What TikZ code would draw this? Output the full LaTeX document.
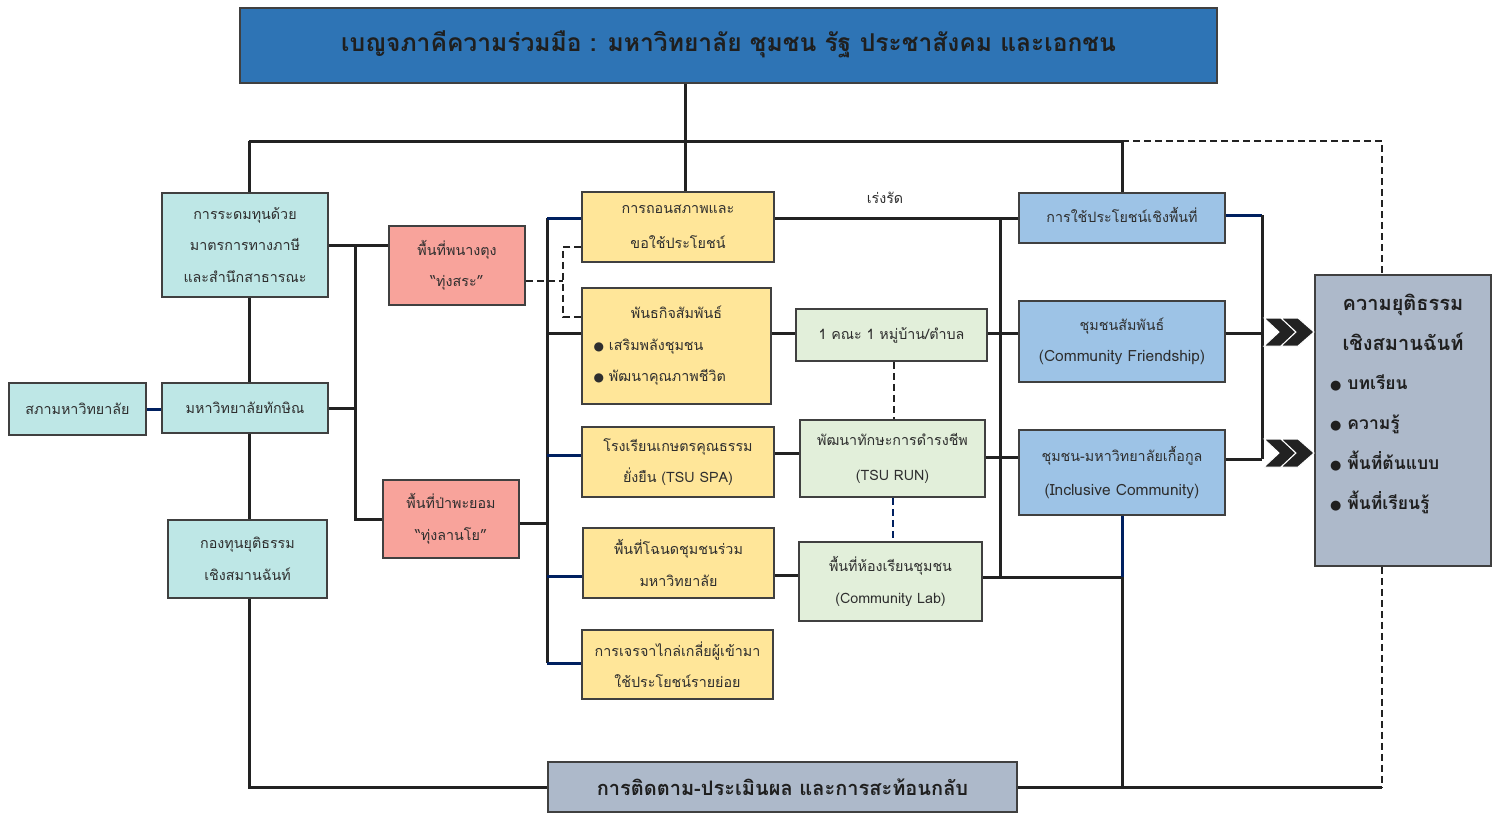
\documentclass[tikz,border=0pt]{standalone}
\usepackage{fontspec}
\setmainfont[Script=Thai]{Loma}
\newfontfamily\symf{DejaVu Sans}
\definecolor{headc}{HTML}{2E74B5}
\definecolor{cyanc}{HTML}{BEE7E6}
\definecolor{pinkc}{HTML}{F8A39B}
\definecolor{yelc}{HTML}{FFE699}
\definecolor{grnc}{HTML}{E2EFDA}
\definecolor{bluc}{HTML}{9DC3E6}
\definecolor{greyc}{HTML}{ADB9CA}
\definecolor{navyc}{HTML}{002060}
\definecolor{linec}{HTML}{222222}
\definecolor{bordc}{HTML}{404040}
\definecolor{txtc}{HTML}{2E2E2E}
\tikzset{
  box/.style={draw=bordc, line width=1.5pt, inner sep=0pt, align=center, text=txtc,
    font=\fontsize{14.3}{31.5}\selectfont},
  ln/.style={draw=linec, line width=3pt},
  nv/.style={draw=navyc, line width=3pt},
  dsh/.style={draw=linec, line width=2.6pt, dash pattern=on 7pt off 4pt},
  ndsh/.style={draw=navyc, line width=2.6pt, dash pattern=on 7pt off 4pt},
  chevf/.style={fill=linec, draw=white, line width=1pt},
}
\newcommand\dblchev[2]{%
  \begin{scope}[shift={(#1,#2)}]
    \filldraw[chevf] (0,-14) -- (17,-14) -- (32,0) -- (17,14) -- (0,14) -- (15,0) -- cycle;
    \filldraw[chevf] (17,-14) -- (34,-14) -- (50,0) -- (34,14) -- (17,14) -- (32,0) -- cycle;
  \end{scope}}
\begin{document}
\begin{tikzpicture}[x=1pt,y=-1pt]
\useasboundingbox (0,0) rectangle (1501,814);
% ---------------- nodes
\node[box, fill=headc, minimum width=977, minimum height=75, text=black!88,
  font=\bfseries\fontsize{24.6}{28}\selectfont] (head) at (728.5,45.5) {\raisebox{8pt}{เบญจภาคีความร่วมมือ : มหาวิทยาลัย ชุมชน รัฐ ประชาสังคม และเอกชน}};

\node[box, fill=cyanc, minimum width=166, minimum height=104] (fund) at (245,245) {การระดมทุนด้วย\\มาตรการทางภาษี\\และสำนึกสาธารณะ};
\node[box, fill=cyanc, minimum width=137, minimum height=52] (council) at (77.5,409) {สภามหาวิทยาลัย};
\node[box, fill=cyanc, minimum width=166, minimum height=50] (tsu) at (245,408) {มหาวิทยาลัยทักษิณ};
\node[box, fill=cyanc, minimum width=159, minimum height=78] (jfund) at (247.5,559) {กองทุนยุติธรรม\\เชิงสมานฉันท์};

\node[box, fill=pinkc, minimum width=136, minimum height=79] (p1) at (457,265.5) {พื้นที่พนางตุง\\“ทุ่งสระ”};
\node[box, fill=pinkc, minimum width=136, minimum height=78] (p2) at (451,519) {พื้นที่ป่าพะยอม\\“ทุ่งลานโย”};

\node[box, fill=yelc, minimum width=192, minimum height=70] (y1) at (678,227) {\raisebox{3pt}{การถอนสภาพและ}\\ขอใช้ประโยชน์};
\node[box, fill=yelc, minimum width=189, minimum height=116, align=left] (y2) at (676.5,346)
  {\makebox[166pt][c]{พันธกิจสัมพันธ์}\\{\symf\fontsize{12}{12}\selectfont ●}\hspace{5pt}เสริมพลังชุมชน\\{\symf\fontsize{12}{12}\selectfont ●}\hspace{5pt}พัฒนาคุณภาพชีวิต};
\node[box, fill=yelc, minimum width=192, minimum height=70] (y3) at (678,462) {โรงเรียนเกษตรคุณธรรม\\ยั่งยืน (TSU SPA)};
\node[box, fill=yelc, minimum width=191, minimum height=70] (y4) at (678.5,563) {พื้นที่โฉนดชุมชนร่วม\\มหาวิทยาลัย};
\node[box, fill=yelc, minimum width=191, minimum height=69] (y5) at (677.5,664.5) {การเจรจาไกล่เกลี่ยผู้เข้ามา\\ใช้ประโยชน์รายย่อย};

\node[box, fill=grnc, minimum width=191, minimum height=52] (g1) at (891.5,335) {\raisebox{2pt}{1 คณะ 1 หมู่บ้าน/ตำบล}};
\node[box, fill=grnc, minimum width=185, minimum height=77] (g2) at (892.5,458.5) {\raisebox{3pt}{พัฒนาทักษะการดำรงชีพ}\\(TSU RUN)};
\node[box, fill=grnc, minimum width=183, minimum height=79] (g3) at (890.5,581.5) {พื้นที่ห้องเรียนชุมชน\\(Community Lab)};

\node[box, fill=bluc, minimum width=206, minimum height=50] (b1) at (1122,218) {\raisebox{6pt}{การใช้ประโยชน์เชิงพื้นที่}};
\node[box, fill=bluc, minimum width=206, minimum height=81] (b2) at (1122,341.5) {ชุมชนสัมพันธ์\\{\fontsize{15.5}{31.5}\selectfont (Community Friendship)}};
\node[box, fill=bluc, minimum width=206, minimum height=85] (b3) at (1122,472.5) {\raisebox{3pt}{ชุมชน-มหาวิทยาลัยเกื้อกูล}\\{\fontsize{15.5}{31.5}\selectfont (Inclusive Community)}};

\node[box, fill=greyc, minimum width=176, minimum height=291] (res) at (1403,420.5) {};
\node[text=black!88, align=center, inner sep=0pt, font=\bfseries\fontsize{20}{40}\selectfont] (restitle) at (1403,322) {ความยุติธรรม\\เชิงสมานฉันท์};
\node[text=black!88, align=left, inner sep=0pt, anchor=west, font=\bfseries\fontsize{17.5}{40}\selectfont] (resitems) at (1330,444)
  {{\symf\fontsize{13}{13}\selectfont ●} บทเรียน\\{\symf\fontsize{13}{13}\selectfont ●} ความรู้\\{\symf\fontsize{13}{13}\selectfont ●} พื้นที่ต้นแบบ\\{\symf\fontsize{13}{13}\selectfont ●} พื้นที่เรียนรู้};

\node[box, fill=greyc, minimum width=469, minimum height=50, text=black!88,
  font=\bfseries\fontsize{20}{24}\selectfont] (mon) at (782.5,787) {การติดตาม-ประเมินผล และการสะท้อนกลับ};

\node[text=txtc, inner sep=0pt, font=\fontsize{14.3}{16}\selectfont] (rush) at (885,198) {เร่งรัด};

% ---------------- helper coordinates
\coordinate (hx) at (685,141);
\coordinate (lx) at (249,141);
\coordinate (rx) at (1122,141);
\coordinate (dx) at (1382,141);
\coordinate (px) at (355,0);
\coordinate (dj) at (563,281);
\coordinate (dy1) at (563,247);
\coordinate (dy2) at (563,317);
\coordinate (yb1) at (547,218);
\coordinate (yb2) at (547,333);
\coordinate (yb3) at (547,455);
\coordinate (yb4) at (547,576);
\coordinate (yb5) at (547,663);
\coordinate (ybp) at (547,523);
\coordinate (yg1) at (0,333);
\coordinate (yg2) at (0,453);
\coordinate (yg3) at (0,575);
\coordinate (gb1) at (1000,218);
\coordinate (gb4) at (1000,577);
\coordinate (gy2) at (0,457);
\coordinate (bj) at (1122,577);
\coordinate (bb) at (1122,787);
\coordinate (rb1) at (1262,215);
\coordinate (rb2) at (1262,333);
\coordinate (rb3) at (1262,459);
\coordinate (gdx) at (894,0);
\coordinate (gdx2) at (893,0);

% ---------------- connectors
\draw[ln] (head.south -| hx) -- (y1.north -| hx);
\draw[ln] (lx) -- (rx);
\draw[dsh] (rx) -- (dx) -- (dx |- res.north);
\draw[ln] (rx) -- (b1.north -| rx);

\draw[ln] (lx) -- (fund.north -| lx);
\draw[ln] (fund.south -| lx) -- (tsu.north -| lx);
\draw[ln] (tsu.south -| lx) -- (jfund.north -| lx);
\draw[ln] (jfund.south -| lx) -- (lx |- mon.west) -- (mon.west);
\draw[nv] (council.east) -- (council.east -| tsu.west);

\draw[ln] (fund.east) -- (fund.east -| p1.west);
\draw[ln] (fund.east -| px) -- (px |- p2.west) -- (p2.west);
\draw[ln] (tsu.east) -- (tsu.east -| px);

\draw[dsh] (p1.east |- dj) -- (dj);
\draw[dsh] (y1.west |- dy1) -- (dy1) -- (dy2) -- (y2.west |- dy2);

\draw[ln] (yb1) -- (yb5);
\draw[nv] (yb1) -- (yb1 -| y1.west);
\draw[ln] (yb2) -- (yb2 -| y2.west);
\draw[nv] (yb3) -- (yb3 -| y3.west);
\draw[nv] (yb4) -- (yb4 -| y4.west);
\draw[nv] (yb5) -- (yb5 -| y5.west);
\draw[ln] (p2.east |- ybp) -- (ybp);

\draw[ln] (y1.east |- yb1) -- (b1.west |- yb1);
\draw[ln] (y2.east |- yg1) -- (g1.west |- yg1);
\draw[ln] (y3.east |- yg2) -- (g2.west |- yg2);
\draw[ln] (y4.east |- yg3) -- (g3.west |- yg3);

\draw[dsh] (g1.south -| gdx) -- (g2.north -| gdx);
\draw[ndsh] (g2.south -| gdx2) -- (g3.north -| gdx2);

\draw[ln] (gb1) -- (gb4);
\draw[ln] (g1.east |- yg1) -- (b2.west |- yg1);
\draw[ln] (g2.east |- gy2) -- (b3.west |- gy2);
\draw[ln] (g3.east |- bj) -- (bj);
\draw[nv] (b3.south -| bj) -- (bj);
\draw[ln] (bj) -- (bb);
\draw[ln] (mon.east) -- (bb) -- (bb -| dx);
\draw[dsh] (res.south -| dx) -- (bb -| dx);

\draw[nv] (b1.east |- rb1) -- (rb1);
\draw[ln] (rb1) -- (rb3);
\draw[ln] (b2.east |- rb2) -- (rb2);
\draw[ln] (b3.east |- rb3) -- (rb3);

\dblchev{1264}{332}
\dblchev{1264}{453}
\end{tikzpicture}
\end{document}
